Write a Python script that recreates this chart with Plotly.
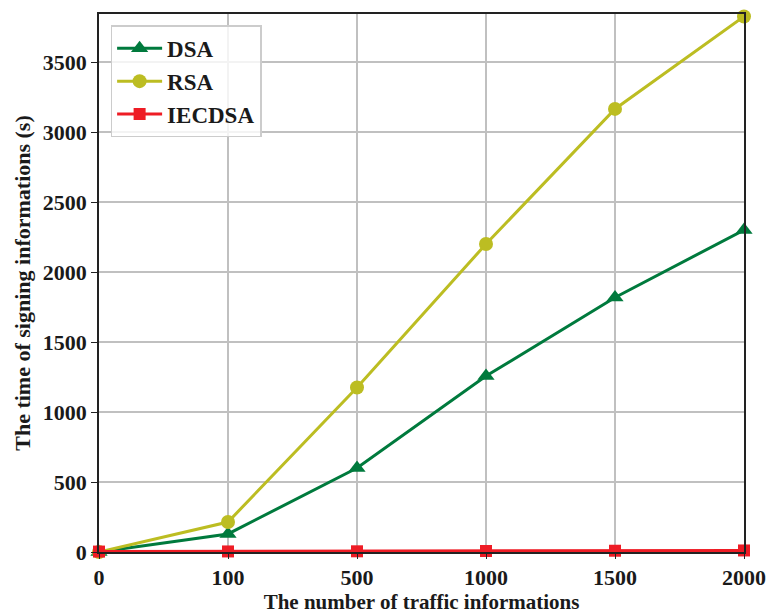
import plotly.graph_objects as go

categories = ["0", "100", "500", "1000", "1500", "2000"]
dsa = [0, 129, 600, 1257, 1818, 2300]
rsa = [0, 214, 1175, 2200, 3165, 3825]
iecdsa = [3, 4, 5, 7, 9, 11]

font_family = "Liberation Serif, Times New Roman, serif"

fig = go.Figure()
fig.add_trace(go.Scatter(x=categories, y=dsa, name="<b>DSA</b>", mode="lines+markers",
                         line=dict(color="#007a3d", width=3),
                         marker=dict(symbol="triangle-up", size=15, color="#007a3d"),
                         cliponaxis=False))
fig.add_trace(go.Scatter(x=categories, y=rsa, name="<b>RSA</b>", mode="lines+markers",
                         line=dict(color="#bcbd22", width=3),
                         marker=dict(symbol="circle", size=14, color="#bcbd22"),
                         cliponaxis=False))
fig.add_trace(go.Scatter(x=categories, y=iecdsa, name="<b>IECDSA</b>", mode="lines+markers",
                         line=dict(color="#ee1c25", width=3),
                         marker=dict(symbol="square", size=12, color="#ee1c25"),
                         cliponaxis=False))

fig.update_layout(
    width=766, height=614,
    margin=dict(l=99, r=22, t=14, b=62),
    plot_bgcolor="white", paper_bgcolor="white",
    font=dict(family=font_family, size=22, color="#1a1a1a"),
    showlegend=True,
    legend=dict(x=0.018, y=0.979, xanchor="left", yanchor="top",
                bgcolor="rgba(255,255,255,0.8)", bordercolor="#cccccc", borderwidth=1.5,
                font=dict(family=font_family, size=23, color="#1a1a1a"),
                itemwidth=45, tracegroupgap=6),
    xaxis=dict(type="category", range=[0, 5], automargin=False,
               title=dict(text="<b>The number of traffic informations</b>", standoff=3,
                          font=dict(size=21)),
               tickfont=dict(size=22), tickprefix="<b>", ticksuffix="</b>",
               showgrid=True, gridcolor="#c0c0c0", gridwidth=1.5,
               showline=True, linecolor="#222222", linewidth=1.5, mirror=True,
               ticks="outside", ticklen=5, tickcolor="#222222", zeroline=False),
    yaxis=dict(range=[0, 3843], tick0=0, dtick=500, automargin=False,
               title=dict(text="<b>The time of signing informations (s)</b>", standoff=6,
                          font=dict(size=22)),
               tickfont=dict(size=22), tickprefix="<b>", ticksuffix="</b>",
               showgrid=True, gridcolor="#c0c0c0", gridwidth=1.5,
               showline=True, linecolor="#222222", linewidth=1.5, mirror=True,
               ticks="outside", ticklen=6, tickcolor="#222222", zeroline=False),
)

fig.write_html("out.html")
